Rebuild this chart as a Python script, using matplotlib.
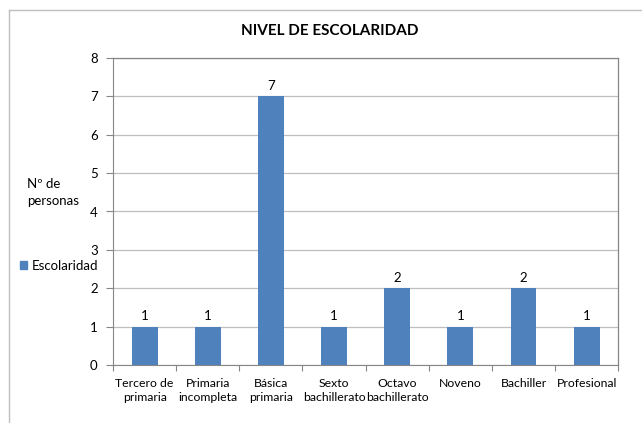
import numpy as np
import matplotlib.pyplot as plt
from matplotlib.lines import Line2D
from matplotlib.patches import Patch

plt.rcParams['font.family'] = ['Lato', 'DejaVu Sans']

# data
categories = ['Tercero de\nprimaria', 'Primaria\nincompleta', 'Básica\nprimaria',
              'Sexto\nbachillerato', 'Octavo\nbachillerato', 'Noveno',
              'Bachiller', 'Profesional']
values = [1, 1, 7, 1, 2, 1, 2, 1]

bar_color = '#4F81BD'
grid_color = '#BEBEBE'
axis_color = '#868686'

fig = plt.figure(figsize=(6.42, 4.23), dpi=100)
ax = fig.add_axes([0.176, 0.137, 0.787, 0.726])

x = np.arange(len(categories))
bars = ax.bar(x, values, width=0.41, color=bar_color, zorder=3)

#value labels above bars
for xi, v in zip(x, values):
    ax.text(xi, v + 0.12, str(v), ha='center', va='bottom', fontsize=9.5, color='black')

ax.set_xlim(-0.5, len(categories) - 0.5)
ax.set_ylim(0, 8)
ax.set_yticks(range(0, 9))
ax.yaxis.grid(True, color=grid_color, linewidth=0.9, zorder=0)
ax.set_xticks(np.arange(-0.5, len(categories), 1.0), minor=False)
ax.set_xticklabels([])
ax.set_xticks(x, minor=True)
ax.set_xticklabels(categories, minor=True, fontsize=8.8, linespacing=1.35)
ax.tick_params(axis='x', which='minor', length=0, pad=9)
ax.tick_params(axis='x', which='major', length=4, color=axis_color)
ax.tick_params(axis='y', length=5, color=axis_color, labelsize=9.5, pad=6)

for side in ['left', 'bottom']:
    ax.spines[side].set_color(axis_color)
for side in ['top', 'right']:
    ax.spines[side].set_color(axis_color)
    ax.spines[side].set_linewidth(0.9)

fig.text(0.513, 0.926, 'NIVEL DE ESCOLARIDAD', ha='center', va='center',
         fontsize=11, fontweight='bold')

#y label, horizontal to the left
fig.text(0.042, 0.545, 'Nº de\npersonas', ha='left', va='center', fontsize=9.5,
         linespacing=1.5)

#legend on the left
fig.legend(handles=[Patch(color=bar_color, label='Escolaridad')],
           loc='center left', bbox_to_anchor=(0.012, 0.372), frameon=False,
           fontsize=9.5, handlelength=0.6, handleheight=0.6, handletextpad=0.3)

#outer chart border
fig.add_artist(Line2D([0.014, 1.0], [0.976, 0.976], color='#BFBFBF', linewidth=1,
                      transform=fig.transFigure))
fig.add_artist(Line2D([0.014, 0.014], [0.0, 0.976], color='#BFBFBF', linewidth=1,
                      transform=fig.transFigure))

plt.savefig('out.png', dpi=100)
